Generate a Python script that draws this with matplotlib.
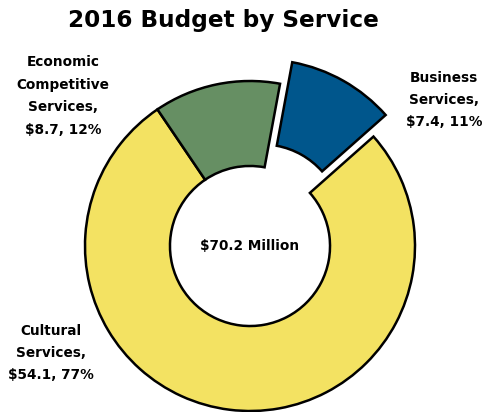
import matplotlib.pyplot as plt

# data
services = ['Business Services', 'Cultural Services', 'Economic Competitive Services']
label_lines = ['Business\nServices,', 'Cultural\nServices,', 'Economic\nCompetitive\nServices,']
budget = [7.4, 54.1, 8.7]
percent = [11, 77, 12]
total_label = '$70.2 Million'
title = '2016 Budget by Service'

colors = ['#00568C', '#F3E262', '#668F63']
explode = [0.15, 0, 0]

plt.rcParams['font.family'] = ['DejaVu Sans']

W, H = 486, 412
fig = plt.figure(figsize=(W / 100, H / 100), dpi=100)
ax = fig.add_axes([0, 0, 1, 1])

ax.pie(budget, colors=colors, explode=explode, startangle=79.5, counterclock=False,
       radius=1, wedgeprops=dict(width=0.515, edgecolor='black', linewidth=1.8))

# pie center at pixel (250, 246), radius 165 px
scale = 165.0
cx, cy = 250, 246
ax.set_xlim(-cx / scale, (W - cx) / scale)
ax.set_ylim(-(H - cy) / scale, cy / scale)
ax.set_aspect('auto')
ax.set_axis_off()

fig.text(223 / W, 1 - 20 / H, title, ha='center', va='center', fontsize=16.7, fontweight='bold')

# label positions in pixels (center x, center y of the block)
label_pos = [(444, 100), (51, 353), (63, 96)]
for name, val, pct, (px, py) in zip(label_lines, budget, percent, label_pos):
    txt = f'{name}\n${val}, {pct}%'
    fig.text(px / W, 1 - py / H, txt, ha='center', va='center', fontsize=9.8,
             fontweight='bold', linespacing=1.76)

ax.text(0, 0, total_label, ha='center', va='center', fontsize=9.8, fontweight='bold')

fig.savefig('out.png', dpi=100)
